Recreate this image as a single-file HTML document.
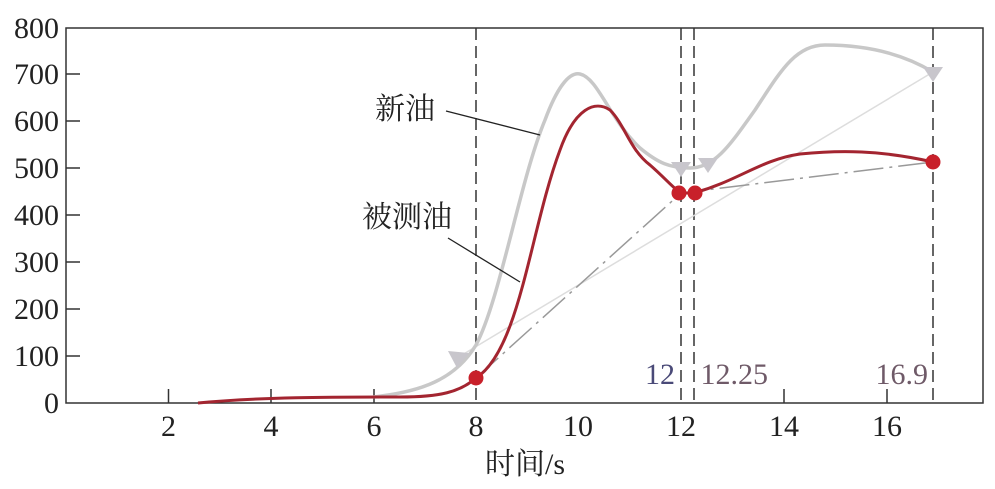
<!DOCTYPE html>
<html><head><meta charset="utf-8"><style>
html,body{margin:0;padding:0;background:#fff;}
svg{display:block;font-family:"Liberation Serif","Noto Serif CJK SC",serif;}
</style></head><body>
<svg width="995" height="489" viewBox="0 0 995 489" xmlns="http://www.w3.org/2000/svg">
<rect x="66" y="28" width="917" height="375" fill="none" stroke="#333" stroke-width="1.5"/>
<g stroke="#333" stroke-width="1.5">
<line x1="66" y1="356" x2="80" y2="356"/><line x1="66" y1="309" x2="80" y2="309"/>
<line x1="66" y1="262" x2="80" y2="262"/><line x1="66" y1="215" x2="80" y2="215"/>
<line x1="66" y1="168" x2="80" y2="168"/><line x1="66" y1="121" x2="80" y2="121"/>
<line x1="66" y1="74" x2="80" y2="74"/>
<line x1="168.5" y1="403" x2="168.5" y2="389"/><line x1="271" y1="403" x2="271" y2="389"/>
<line x1="374" y1="403" x2="374" y2="389"/><line x1="784" y1="403" x2="784" y2="389"/>
<line x1="887" y1="403" x2="887" y2="389"/>
</g>
<g font-size="30" fill="#222" text-anchor="end">
<text x="59" y="413">0</text><text x="59" y="366">100</text><text x="59" y="319">200</text>
<text x="59" y="272">300</text><text x="59" y="225">400</text><text x="59" y="178">500</text>
<text x="59" y="131">600</text><text x="59" y="84">700</text><text x="59" y="38">800</text>
</g>
<g font-size="30" fill="#222" text-anchor="middle">
<text x="168.5" y="436">2</text><text x="271" y="436">4</text><text x="374" y="436">6</text>
<text x="476" y="436">8</text><text x="578" y="436">10</text><text x="681" y="436">12</text>
<text x="784" y="436">14</text><text x="887" y="436">16</text>
<text x="525" y="474">时间/s</text>
</g>
<g stroke="#333" stroke-width="1.5" stroke-dasharray="12,6">
<line x1="476" y1="28" x2="476" y2="403"/><line x1="681" y1="28" x2="681" y2="403"/>
<line x1="694" y1="28" x2="694" y2="403"/><line x1="933" y1="28" x2="933" y2="403"/>
</g>
<g font-size="30" text-anchor="end">
<text x="675" y="384" fill="#4a4a78">12</text>
<text x="768" y="384" fill="#6f5a68">12.25</text>
<text x="928" y="384" fill="#6f5a68">16.9</text>
</g>
<line x1="457" y1="358" x2="933" y2="72" stroke="#ddd" stroke-width="1.5"/>
<polyline points="476,378 681,193 933,162" fill="none" stroke="#999" stroke-width="1.5" stroke-dasharray="30,6,3,6"/>
<path d="M373,397 C420,392 455,380 476,345 C500,300 520,180 545,120 C558,85 570,72 580,74 C598,78 610,120 640,148 C658,163 670,168 690,168 C715,168 730,145 755,110 C780,72 795,45 825,45 C870,45 905,55 933,72" fill="none" stroke="#c8c8c8" stroke-width="3.5"/>
<path d="M198,403 C260,397 330,397 400,397 C440,397 460,392 476,378 C520,350 530,230 560,150 C575,108 595,100 610,110 C625,125 630,150 650,165 C665,178 675,190 681,193 L694,193 C740,180 760,160 800,154 C840,150 880,150 933,162" fill="none" stroke="#a32530" stroke-width="3"/>
<g fill="#c8c6cc">
<polygon points="448,351 469,353 457,368"/>
<polygon points="671,162 691,162 681,177"/>
<polygon points="698,158 718,158 708,173"/>
<polygon points="923,67 943,67 933,82"/>
</g>
<g fill="#c8202a">
<circle cx="476" cy="378" r="7.5"/><circle cx="679" cy="193" r="7.5"/>
<circle cx="695" cy="193" r="7.5"/><circle cx="933" cy="162" r="7.5"/>
</g>
<g stroke="#222" stroke-width="1.3">
<line x1="446" y1="111" x2="540" y2="135"/>
<line x1="448" y1="238" x2="520" y2="282"/>
</g>
<g font-size="30" fill="#222">
<text x="375" y="119">新油</text>
<text x="362" y="227">被测油</text>
</g>
</svg>
</body></html>
